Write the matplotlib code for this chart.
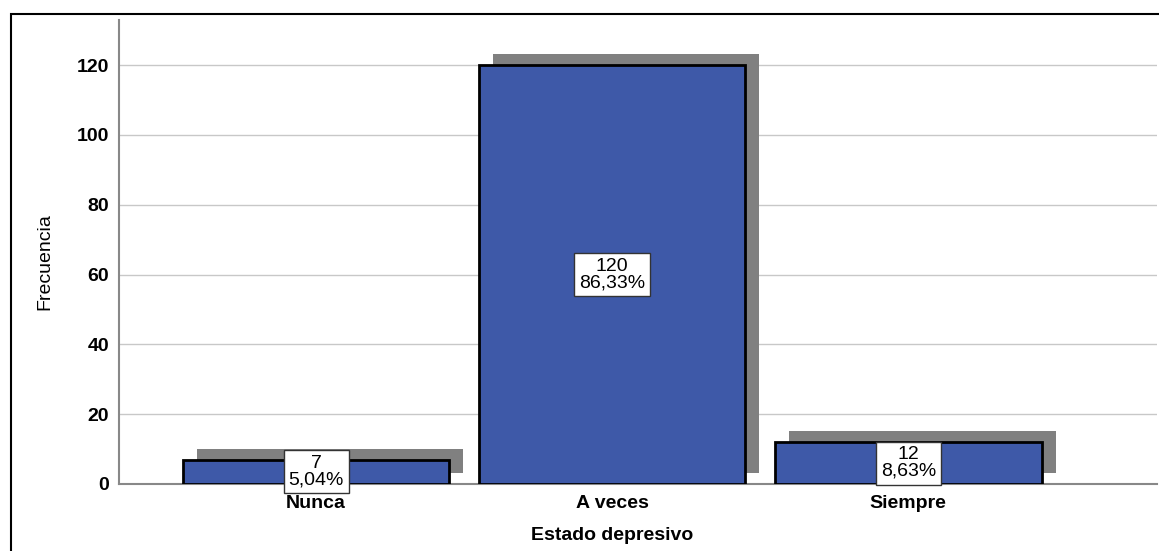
import matplotlib
matplotlib.use("Agg")
import matplotlib.pyplot as plt
from matplotlib.transforms import ScaledTranslation
from matplotlib.patches import Rectangle

categories = ["Nunca", "A veces", "Siempre"]
counts = [7, 120, 12]
percents = ["5,04%", "86,33%", "8,63%"]
yticks = [0, 20, 40, 60, 80, 100, 120]

plt.rcParams["font.family"] = ["Liberation Sans", "DejaVu Sans"]

fig = plt.figure(figsize=(11.59, 5.51), dpi=100)
ax = fig.add_axes([119 / 1159, 1 - 484 / 551, (1157 - 119) / 1159, (484 - 20) / 551])

x = list(range(len(categories)))
bar_color = "#3E59A8"

# drop shadow behind each bar, shifted right and up
shadow = ax.transData + ScaledTranslation(14 / 100, 11 / 100, fig.dpi_scale_trans)
ax.bar(x, counts, width=0.9, color="#808080", transform=shadow, zorder=2)
ax.bar(x, counts, width=0.9, color=bar_color, edgecolor="black", linewidth=2, zorder=3)

for xi, c, p in zip(x, counts, percents):
    ax.text(xi, c / 2, f"{c}\n{p}", ha="center", va="center", fontsize=14,
            linespacing=0.95, zorder=5,
            bbox=dict(boxstyle="square,pad=0.25", facecolor="white",
                      edgecolor="#333333", linewidth=1))

ax.set_xlim(-0.666, 2.84)
ax.set_ylim(0, 132.9)
ax.set_yticks(yticks)
ax.set_xticks(x)
ax.set_xticklabels(categories, fontweight="bold", fontsize=14)
ax.set_yticklabels([str(t) for t in yticks], fontweight="bold", fontsize=14)
ax.tick_params(axis="both", length=0)
ax.tick_params(axis="y", pad=7)
ax.tick_params(axis="x", pad=8)

ax.grid(axis="y", color="#c8c8c8", linewidth=1, zorder=0)
ax.set_axisbelow(True)
for s in ["top", "right"]:
    ax.spines[s].set_visible(False)
for s in ["left", "bottom"]:
    ax.spines[s].set_color("#888888")
    ax.spines[s].set_linewidth(1.5)

ax.set_xlabel("Estado depresivo", fontweight="bold", fontsize=14, va="center")
ax.xaxis.set_label_coords(612 / 1159, 1 - 536 / 551, transform=fig.transFigure)
ax.set_ylabel("Frecuencia", fontsize=14, va="center")
ax.yaxis.set_label_coords(45 / 1159, 1 - 262 / 551, transform=fig.transFigure)

# outer frame around the chart area
fig.patches.append(Rectangle((11 / 1159, -0.1), 1.2, 1 - 14 / 551 + 0.1,
                             transform=fig.transFigure, fill=False,
                             edgecolor="black", linewidth=1.5))

fig.savefig("out.png", dpi=100)
